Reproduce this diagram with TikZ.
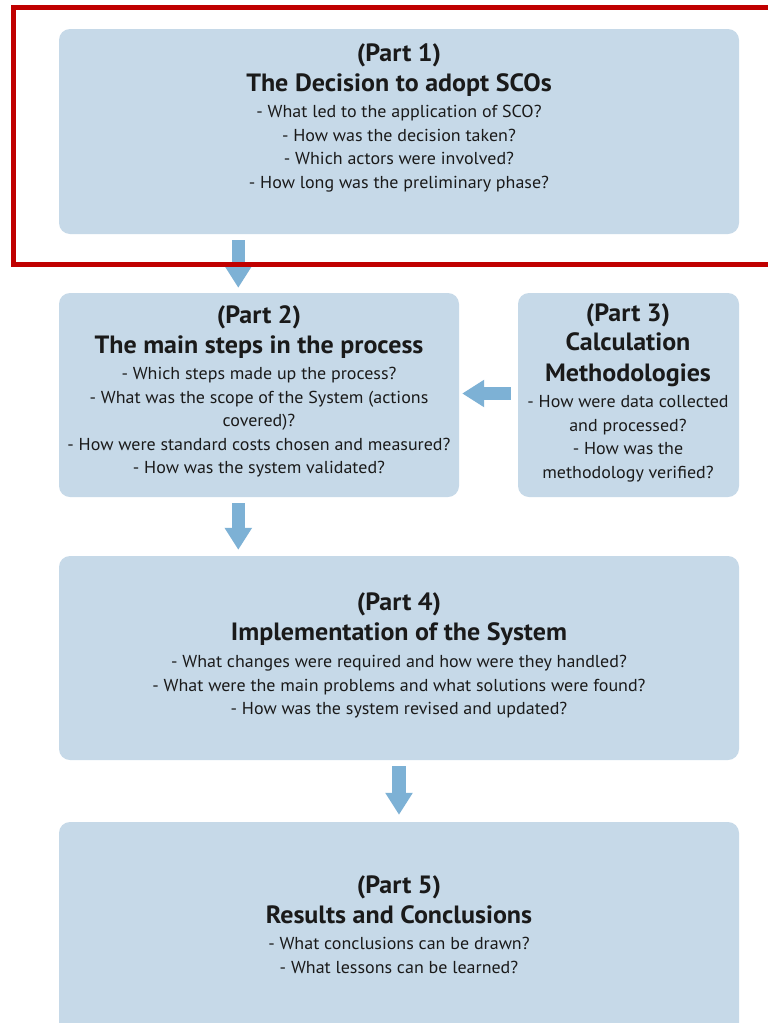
\documentclass[tikz,border=0pt]{standalone}
\usepackage{fontspec}
\setmainfont{PT Sans}[FakeStretch=1.04]
\usetikzlibrary{arrows.meta}
\definecolor{boxfill}{HTML}{C6D9E8}
\definecolor{arrowblue}{HTML}{7DB1D5}
\definecolor{framered}{HTML}{C00000}
\definecolor{txt}{HTML}{1A1A1A}
\newcommand{\hd}{\fontsize{25}{23.5}\selectfont\bfseries}
\tikzset{
  box/.style={fill=boxfill, rounded corners=11pt, inner sep=0pt, draw=none},
  txtnode/.style={align=center, text=txt, inner sep=0pt, font=\fontsize{17.3}{23.5}\selectfont},
  flow/.style={draw=arrowblue, line width=13.5pt, -{Triangle[width=26pt,length=22pt]}},
}
\begin{document}
\begin{tikzpicture}[x=1pt,y=-1pt]
\useasboundingbox (0,0) rectangle (768,1023);
\clip (0,0) rectangle (768,1023);
\fill[white] (0,0) rectangle (768,1023);
% boxes
\node[box, minimum width=680pt, minimum height=205pt] (b1) at (399,131.5) {};
\node[box, minimum width=400pt, minimum height=204pt] (b2) at (259,395) {};
\node[box, minimum width=221pt, minimum height=204pt] (b3) at (628.5,395) {};
\node[box, minimum width=680pt, minimum height=204pt] (b4) at (399,658) {};
\node[box, minimum width=680pt, minimum height=212pt] (b5) at (399,928) {};
% texts
\node[txtnode] (t1) at (399,118) {{\hd (Part 1)}\\[6.5pt]{\hd The Decision to adopt SCOs}\\[2.5pt]
- What led to the application of SCO?\\- How was the decision taken?\\- Which actors were involved?\\- How long was the preliminary phase?};
\node[txtnode] (t2) at (259,391.5) {{\hd (Part 2)}\\[6.5pt]{\hd The main steps in the process}\\[2.5pt]
- Which steps made up the process?\\- What was the scope of the System (actions\\covered)?\\- How were standard costs chosen and measured?\\- How was the system validated?};
\node[txtnode] (t3) at (628,393) {{\hd (Part 3)}\\[5.5pt]{\hd Calculation}\\[7.5pt]{\hd Methodologies}\\[2.5pt]
- How were data collected\\and processed?\\- How was the\\methodology verified?};
\node[txtnode] (t4) at (399,655.5) {{\hd (Part 4)}\\[6.5pt]{\hd Implementation of the System}\\[3.5pt]
- What changes were required and how were they handled?\\- What were the main problems and what solutions were found?\\- How was the system revised and updated?};
\node[txtnode] (t5) at (399,924.5) {{\hd (Part 5)}\\[6.5pt]{\hd Results and Conclusions}\\[2.5pt]
- What conclusions can be drawn?\\- What lessons can be learned?};
% arrows
\draw[flow] ([shift={(179.5,6)}]b1.south west) -- ([shift={(179.5,-5)}]b2.north west);
\draw[flow] ([shift={(179.5,6)}]b2.south west) -- ([shift={(179.5,-6)}]b4.north west);
\draw[flow] ([shift={(0,6)}]b4.south) -- ([shift={(0,-7)}]b5.north);
\draw[flow] ([shift={(-7,-1.5)}]b3.west) -- ([shift={(3,-1.5)}]b2.east);
% red frame
\draw[framered, line width=4.5pt] (790,7.5) -- (13.5,7.5) -- (13.5,264.5) -- (790,264.5);
\end{tikzpicture}
\end{document}
